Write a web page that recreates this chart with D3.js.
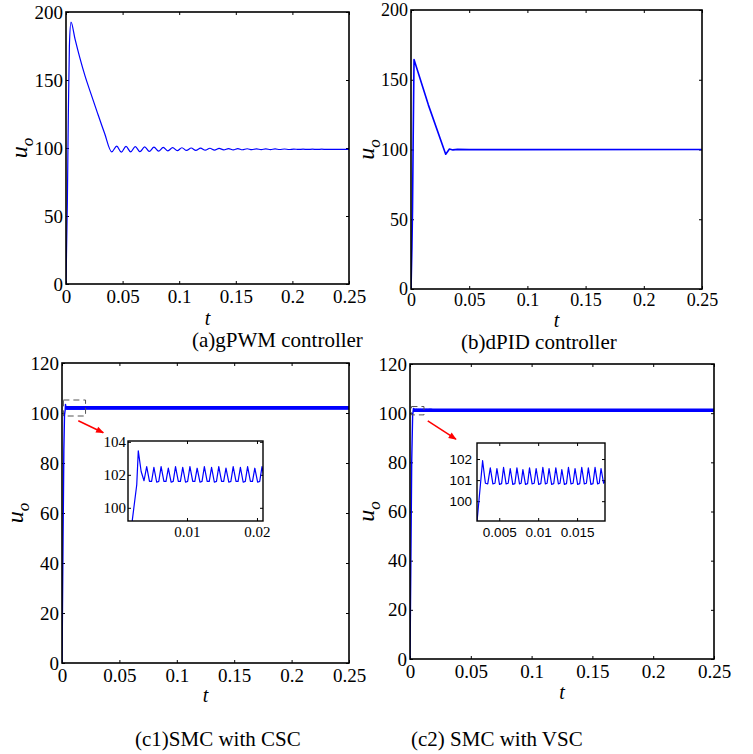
<!DOCTYPE html>
<html>
<head>
<meta charset="utf-8">
<script src="https://cdn.jsdelivr.net/npm/d3@7"></script>
<style>
  body { margin: 0; background: #fff; }
</style>
</head>
<body>
<div class="canvas"></div>
<script>
// Tick labels
const x_ticks = [0, 0.05, 0.1, 0.15, 0.2, 0.25];
const y_ticks_top = [0, 50, 100, 150, 200];
const y_ticks_bottom = [0, 20, 40, 60, 80, 100, 120];
const c1_zoom_x_ticks = [0.01, 0.02];
const c1_zoom_y_ticks = [100, 102, 104];
const c2_zoom_x_ticks = [0.005, 0.01, 0.015];
const c2_zoom_y_ticks = [100, 101, 102];

// Series, [t, u_o]
const gpwm = [
  [0, 0], [0.0012, 60], [0.002, 120], [0.003, 175], [0.0044, 192.5],
  [0.008, 180], [0.012, 167], [0.0168, 153], [0.022, 140], [0.0271, 127.5], [0.034, 111], [0.0404, 97.2],
  [0.0448, 101.4], [0.0489, 96.9], [0.0530, 101.2], [0.0571, 97.1], [0.0612, 101.0],
  [0.0653, 97.3], [0.0695, 100.8], [0.0736, 97.5], [0.0777, 100.6], [0.0818, 97.7],
  [0.0859, 100.4], [0.0900, 97.9], [0.0942, 100.3], [0.0983, 98.0], [0.1024, 100.2],
  [0.1065, 98.2], [0.1106, 100.0], [0.1147, 98.3], [0.1189, 99.9], [0.1230, 98.4],
  [0.1271, 99.8], [0.1312, 98.5], [0.1353, 99.7], [0.1394, 98.6], [0.1436, 99.6],
  [0.1477, 98.65], [0.1518, 99.5], [0.1559, 98.7], [0.1600, 99.45], [0.1641, 98.75],
  [0.1683, 99.4], [0.1724, 98.8], [0.1765, 99.35], [0.1806, 98.85], [0.1847, 99.3],
  [0.1888, 98.9], [0.1930, 99.25], [0.1971, 98.9], [0.2012, 99.2], [0.2053, 98.95],
  [0.2094, 99.15], [0.2135, 98.95], [0.2177, 99.1], [0.2218, 99.0], [0.2259, 99.1],
  [0.2300, 99.0], [0.2341, 99.05], [0.2382, 99.0], [0.2424, 99.05], [0.25, 99.0]
];

const dpid = [
  [0, 0], [0.0008, 30], [0.0013, 57], [0.0019, 110], [0.0026, 164.5],
  [0.0149, 132], [0.0298, 96.6], [0.0315, 98.6], [0.033, 100.3], [0.036, 99.7],
  [0.04, 100.1], [0.05, 99.9], [0.25, 100]
];

const smc_csc = [
  [0, 0], [0.0009, 50], [0.0016, 85], [0.00219, 99.27], [0.00282, 101.4], [0.00304, 103.45],
  [0.00345, 102.2], [0.00386, 101.64],
  [0.00424, 102.5], [0.00464, 101.6], [0.00494, 101.6],
  [0.00527, 102.45], [0.00567, 101.55], [0.00597, 101.6],
  [0.00630, 102.5], [0.00670, 101.6], [0.00700, 101.6],
  [0.00733, 102.4], [0.00773, 101.55], [0.00803, 101.6],
  [0.00836, 102.5], [0.00876, 101.6], [0.00906, 101.6],
  [0.00939, 102.45], [0.00979, 101.55], [0.01009, 101.6],
  [0.01042, 102.5], [0.01082, 101.6], [0.01112, 101.6],
  [0.01145, 102.4], [0.01185, 101.55], [0.01215, 101.6],
  [0.01248, 102.5], [0.01288, 101.6], [0.01318, 101.6],
  [0.01351, 102.45], [0.01391, 101.55], [0.01421, 101.6],
  [0.01454, 102.5], [0.01494, 101.6], [0.01524, 101.6],
  [0.01557, 102.4], [0.01597, 101.55], [0.01627, 101.6],
  [0.01660, 102.5], [0.01700, 101.6], [0.01730, 101.6],
  [0.01763, 102.45], [0.01803, 101.55], [0.01833, 101.6],
  [0.01866, 102.5], [0.01906, 101.6], [0.01936, 101.6],
  [0.01969, 102.4], [0.02009, 101.55], [0.02039, 101.6],
  [0.02072, 102.5], [0.02112, 101.6]
];

const smc_vsc = [
  [0, 0], [0.0008, 45], [0.0014, 80], [0.00216, 99.1], [0.00286, 101.92],
  [0.00322, 100.85], [0.00352, 100.82],
  [0.00385, 101.58], [0.00418, 100.82], [0.00445, 100.85],
  [0.0047, 101.55], [0.00503, 100.8], [0.0053, 100.83],
  [0.00555, 101.6], [0.00588, 100.82], [0.00615, 100.85],
  [0.00641, 101.55], [0.00674, 100.8], [0.00701, 100.83],
  [0.00727, 101.58], [0.0076, 100.82], [0.00781, 100.85],
  [0.00804, 101.5], [0.00837, 100.8], [0.00864, 100.83],
  [0.00889, 101.58], [0.00922, 100.82], [0.00949, 100.85],
  [0.00974, 101.55], [0.01007, 100.8], [0.01034, 100.83],
  [0.0106, 101.6], [0.01093, 100.82], [0.01115, 100.85],
  [0.0114, 101.55], [0.01173, 100.8], [0.012, 100.83],
  [0.01227, 101.58], [0.0126, 100.82], [0.01281, 100.85],
  [0.01304, 101.5], [0.01337, 100.8], [0.01364, 100.83],
  [0.01389, 101.6], [0.01422, 100.82], [0.01449, 100.85],
  [0.01474, 101.55], [0.01507, 100.8], [0.01534, 100.83],
  [0.0156, 101.6], [0.01593, 100.82], [0.0162, 100.85],
  [0.01645, 101.58], [0.01678, 100.8], [0.01705, 100.83],
  [0.01731, 101.6], [0.01764, 100.82], [0.01785, 100.85],
  [0.01808, 101.55], [0.01841, 100.85], [0.0186, 100.95]
];

// ripple band over the whole run, [t, low, high]
const csc_band = [[0.0039, 101.55, 102.5], [0.25, 101.55, 102.5]];
const vsc_band = [[0.0033, 100.8, 101.6], [0.25, 100.8, 101.6]];

// zoom window [t0, t1, u0, u1] and arrow [t0, u0, t1, u1] in main axes
const csc_window = [0.0012, 0.0205, 98.8, 105.2];
const vsc_window = [0.0012, 0.0115, 99.3, 102.7];
const csc_arrow = [0.0142, 96.9, 0.036, 92.1];
const vsc_arrow = [0.0146, 96.9, 0.0378, 89.4];

// Settings
const line_color = "#0000ff";
const serif = "'Liberation Serif', 'Times New Roman', serif";
const sans = "'Liberation Sans', Arial, sans-serif";

const svg = d3.select(".canvas").append("svg")
  .attr("width", 753)
  .attr("height", 754)
  .style("background", "#fff");

svg.append("defs").append("marker")
  .attr("id", "arrowhead")
  .attr("viewBox", "0 -5 10 10")
  .attr("refX", 9)
  .attr("refY", 0)
  .attr("orient", "auto")
  .attr("markerUnits", "userSpaceOnUse")
  .attr("markerWidth", 9)
  .attr("markerHeight", 8)
  .append("path")
  .attr("d", "M0,-4L10,0L0,4Z")
  .attr("fill", "red");

let clip_count = 0;

function draw_axes(p) {
  const g = svg.append("g");
  const x = d3.scaleLinear().domain(p.x_domain).range([p.left, p.right]);
  const y = d3.scaleLinear().domain(p.y_domain).range([p.bottom, p.top]);
  const tl = p.tick_len;

  const style_axis = sel => {
    sel.select(".domain").remove();
    sel.attr("font-family", p.font).attr("font-size", p.font_size).attr("fill", "#000");
    sel.selectAll("line").attr("stroke", "#000");
    sel.selectAll("text").attr("fill", "#000");
  };

  g.append("g").attr("transform", `translate(0,${p.bottom})`)
    .call(d3.axisBottom(x).tickValues(p.x_ticks).tickSize(-tl).tickPadding(p.x_pad).tickFormat(d => String(d)))
    .call(style_axis);
  g.append("g").attr("transform", `translate(0,${p.top})`)
    .call(d3.axisTop(x).tickValues(p.x_ticks).tickSize(-tl).tickFormat(""))
    .call(style_axis);
  g.append("g").attr("transform", `translate(${p.left},0)`)
    .call(d3.axisLeft(y).tickValues(p.y_ticks).tickSize(-tl).tickPadding(p.y_pad).tickFormat(d => String(d)))
    .call(style_axis);
  g.append("g").attr("transform", `translate(${p.right},0)`)
    .call(d3.axisRight(y).tickValues(p.y_ticks).tickSize(-tl).tickFormat(""))
    .call(style_axis);

  const id = "clip" + (clip_count++);
  svg.select("defs").append("clipPath").attr("id", id)
    .append("rect")
    .attr("x", p.left).attr("y", p.top)
    .attr("width", p.right - p.left).attr("height", p.bottom - p.top);

  const plot = g.append("g").attr("clip-path", `url(#${id})`);

  g.append("rect")
    .attr("x", p.left).attr("y", p.top)
    .attr("width", p.right - p.left).attr("height", p.bottom - p.top)
    .attr("fill", "none")
    .attr("stroke", "#000")
    .attr("stroke-width", p.box_width);

  return { g, plot, x, y };
}

function add_line(ax, data, width, curve) {
  const gen = d3.line().x(d => ax.x(d[0])).y(d => ax.y(d[1])).curve(curve || d3.curveLinear);
  ax.plot.append("path")
    .attr("d", gen(data))
    .attr("fill", "none")
    .attr("stroke", line_color)
    .attr("stroke-width", width)
    .attr("stroke-linejoin", "round");
}

function add_band(ax, band) {
  const gen = d3.area().x(d => ax.x(d[0])).y0(d => ax.y(d[1])).y1(d => ax.y(d[2]));
  ax.plot.append("path")
    .attr("d", gen(band))
    .attr("fill", line_color)
    .attr("stroke", line_color)
    .attr("stroke-width", 1.4);
}

function add_labels(ax, p) {
  ax.g.append("text")
    .attr("x", (p.left + p.right) / 2)
    .attr("y", p.t_y)
    .attr("text-anchor", "middle")
    .attr("font-family", serif)
    .attr("font-style", "italic")
    .attr("font-size", 20)
    .text("t");

  const u = ax.g.append("text")
    .attr("transform", `translate(${p.u_x},${(p.top + p.bottom) / 2}) rotate(-90)`)
    .attr("text-anchor", "middle")
    .attr("font-family", serif)
    .attr("font-style", "italic")
    .attr("font-size", 24);
  u.append("tspan").text("u");
  u.append("tspan").attr("dy", 6).attr("font-size", 17).text("o");
}

function add_caption(x, y, label) {
  svg.append("text")
    .attr("x", x).attr("y", y)
    .attr("font-family", serif)
    .attr("font-size", 21)
    .text(label);
}

function add_window(ax, w) {
  ax.g.append("rect")
    .attr("x", ax.x(w[0])).attr("y", ax.y(w[3]))
    .attr("width", ax.x(w[1]) - ax.x(w[0]))
    .attr("height", ax.y(w[2]) - ax.y(w[3]))
    .attr("fill", "none")
    .attr("stroke", "#555")
    .attr("stroke-width", 1)
    .attr("stroke-dasharray", "6,4");
}

function add_arrow(ax, a) {
  ax.g.append("line")
    .attr("x1", ax.x(a[0])).attr("y1", ax.y(a[1]))
    .attr("x2", ax.x(a[2])).attr("y2", ax.y(a[3]))
    .attr("stroke", "red")
    .attr("stroke-width", 1.5)
    .attr("marker-end", "url(#arrowhead)");
}

const main_style = { x_ticks: x_ticks, tick_len: 3, font: serif, font_size: 19, x_pad: 6, y_pad: 3, box_width: 1.6 };

// (a) gPWM
const pa = Object.assign({}, main_style, {
  left: 66, right: 349, top: 12, bottom: 284,
  x_domain: [0, 0.25], y_domain: [0, 200], y_ticks: y_ticks_top,
  t_y: 325, u_x: 27
});
const ax_a = draw_axes(pa);
add_line(ax_a, gpwm, 1.2, d3.curveMonotoneX);
add_labels(ax_a, pa);
add_caption(192, 347, "(a)gPWM controller");

// (b) dPID
const pb = Object.assign({}, main_style, {
  left: 411, right: 702, top: 10, bottom: 289,
  x_domain: [0, 0.25], y_domain: [0, 200], y_ticks: y_ticks_top,
  t_y: 327, u_x: 374, font_size: 18, x_pad: 4
});
const ax_b = draw_axes(pb);
add_line(ax_b, dpid, 1.6);
add_labels(ax_b, pb);
add_caption(461, 349, "(b)dPID controller");

// (c1) SMC with CSC
const pc1 = Object.assign({}, main_style, {
  left: 62, right: 349, top: 363, bottom: 663,
  x_domain: [0, 0.25], y_domain: [0, 120], y_ticks: y_ticks_bottom,
  t_y: 702, u_x: 23
});
const ax_c1 = draw_axes(pc1);
add_band(ax_c1, csc_band);
add_line(ax_c1, smc_csc, 1.4);
add_labels(ax_c1, pc1);
add_window(ax_c1, csc_window);
add_arrow(ax_c1, csc_arrow);
add_caption(135, 746, "(c1)SMC with CSC");

const ic1 = {
  left: 128, right: 263, top: 441, bottom: 521,
  x_domain: [0.00157, 0.02086], y_domain: [99.2, 104.05],
  x_ticks: c1_zoom_x_ticks, y_ticks: c1_zoom_y_ticks,
  tick_len: 3, font: serif, font_size: 15, x_pad: 5, y_pad: 2, box_width: 1.4
};
const ax_ic1 = draw_axes(ic1);
ax_ic1.g.insert("rect", ":first-child")
  .attr("x", ic1.left).attr("y", ic1.top)
  .attr("width", ic1.right - ic1.left).attr("height", ic1.bottom - ic1.top)
  .attr("fill", "#fff");
add_line(ax_ic1, smc_csc, 1.2);

// (c2) SMC with VSC
const pc2 = Object.assign({}, main_style, {
  left: 410, right: 714, top: 364, bottom: 659,
  x_domain: [0, 0.25], y_domain: [0, 120], y_ticks: y_ticks_bottom,
  t_y: 699, u_x: 374
});
const ax_c2 = draw_axes(pc2);
add_band(ax_c2, vsc_band);
add_line(ax_c2, smc_vsc, 1.4);
add_labels(ax_c2, pc2);
add_window(ax_c2, vsc_window);
add_arrow(ax_c2, vsc_arrow);
add_caption(411, 746, "(c2) SMC with VSC");

const ic2 = {
  left: 477, right: 605, top: 443, bottom: 521,
  x_domain: [0.00214, 0.01859], y_domain: [99.06, 102.76],
  x_ticks: c2_zoom_x_ticks, y_ticks: c2_zoom_y_ticks,
  tick_len: 3, font: sans, font_size: 13.5, x_pad: 6, y_pad: 5, box_width: 1.4
};
const ax_ic2 = draw_axes(ic2);
ax_ic2.g.insert("rect", ":first-child")
  .attr("x", ic2.left).attr("y", ic2.top)
  .attr("width", ic2.right - ic2.left).attr("height", ic2.bottom - ic2.top)
  .attr("fill", "#fff");
add_line(ax_ic2, smc_vsc, 1.2);
</script>
</body>
</html>
